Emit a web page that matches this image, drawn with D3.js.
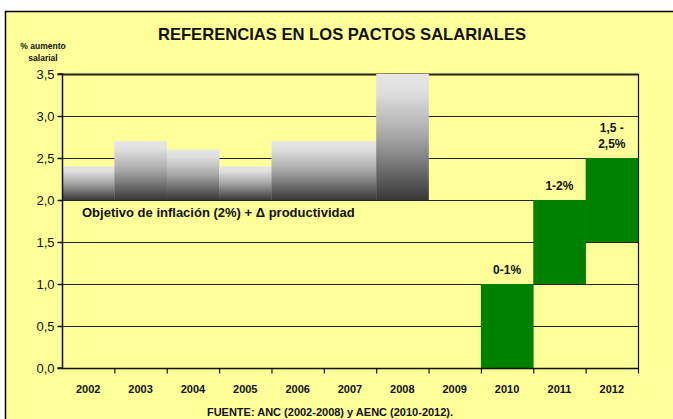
<!DOCTYPE html>
<html><head><meta charset="utf-8">
<script src="https://cdn.jsdelivr.net/npm/d3@7"></script>
<style>body{margin:0;background:#fff}svg{display:block;font-family:"Liberation Sans",Arial,sans-serif}</style>
</head><body>
<svg id="c" width="673" height="419"></svg>
<script>
const years = ["2002","2003","2004","2005","2006","2007","2008","2009","2010","2011","2012"];
const grayLow  = [2.0, 2.0, 2.0, 2.0, 2.0, 2.0, 2.0, null, null, null, null];
const grayHigh = [2.4, 2.7, 2.6, 2.4, 2.7, 2.7, 3.5, null, null, null, null];
const greenLow  = [null, null, null, null, null, null, null, null, 0, 1, 1.5];
const greenHigh = [null, null, null, null, null, null, null, null, 1, 2, 2.5];
const greenLabels = ["", "", "", "", "", "", "", "", "0-1%", "1-2%", "1,5 -|2,5%"];
const yTicks = [0, 0.5, 1, 1.5, 2, 2.5, 3, 3.5];

const svg = d3.select("#c");
const L = 62, R = 638, T = 74, B = 368;
const x = d3.scaleBand().domain(years).range([L, R]).padding(0);
const y = d3.scaleLinear().domain([0, 3.5]).range([B, T]);

// outer background
svg.append("rect").attr("x", 5.5).attr("y", 11.5).attr("width", 700).attr("height", 420)
  .attr("fill", "#FFFF99").attr("stroke", "#000").attr("stroke-width", 1.5);

const defs = svg.append("defs");
const g = defs.append("linearGradient").attr("id", "gr").attr("x1", 0).attr("y1", 0).attr("x2", 0).attr("y2", 1);
g.append("stop").attr("offset", "0%").attr("stop-color", "#e6e6e6");
g.append("stop").attr("offset", "15%").attr("stop-color", "#dedede");
g.append("stop").attr("offset", "50%").attr("stop-color", "#a6a6a6");
g.append("stop").attr("offset", "100%").attr("stop-color", "#383838");

// gridlines
svg.append("g").selectAll("line").data(yTicks.filter(d => d > 0)).join("line")
  .attr("x1", L).attr("x2", R).attr("y1", d => Math.round(y(d)) + 0.5).attr("y2", d => Math.round(y(d)) + 0.5)
  .attr("stroke", "#222").attr("stroke-width", d => d === 3.5 ? 2 : 1);
// right border
svg.append("line").attr("x1", R + 0.5).attr("x2", R + 0.5).attr("y1", T).attr("y2", B).attr("stroke", "#111").attr("stroke-width", 1.2);

const idx = d3.range(years.length);
svg.append("g").selectAll("rect").data(idx.filter(i => grayHigh[i] != null)).join("rect")
  .attr("x", i => x(years[i])).attr("width", x.bandwidth() + 0.3)
  .attr("y", i => y(grayHigh[i])).attr("height", i => y(grayLow[i]) - y(grayHigh[i]))
  .attr("fill", "url(#gr)");
svg.append("g").selectAll("rect").data(idx.filter(i => greenHigh[i] != null)).join("rect")
  .attr("x", i => x(years[i])).attr("width", x.bandwidth() + 0.3)
  .attr("y", i => y(greenHigh[i])).attr("height", i => y(greenLow[i]) - y(greenHigh[i]))
  .attr("fill", "#008000");

// y axis
const yAxis = svg.append("g").attr("transform", `translate(${L + 0.5},0)`)
  .call(d3.axisLeft(y).tickValues(yTicks).tickFormat(d => d3.format(".1f")(d).replace(".", ",")).tickSize(5).tickPadding(3));
yAxis.selectAll("path,line").attr("stroke", "#111").attr("stroke-width", 1.5);
yAxis.select(".domain").attr("d", `M-5,${T}H0V${B}H-5`);
yAxis.selectAll("text").attr("font-size", 13).attr("fill", "#111").attr("font-family", "Liberation Sans, Arial, sans-serif");

// x axis with ticks at boundaries
const xg = svg.append("g").attr("transform", `translate(0,${B + 0.5})`);
xg.append("line").attr("x1", L).attr("x2", R + 1).attr("y1", 0).attr("y2", 0).attr("stroke", "#111").attr("stroke-width", 1.5);
xg.selectAll("line.t").data(years).join("line").attr("class", "t")
  .attr("x1", d => x(d) + x.bandwidth() + 0.5).attr("x2", d => x(d) + x.bandwidth() + 0.5)
  .attr("y1", 0).attr("y2", 5).attr("stroke", "#111").attr("stroke-width", 1.2);
xg.selectAll("text").data(years).join("text")
  .attr("x", d => x(d) + x.bandwidth() / 2).attr("y", 24)
  .attr("text-anchor", "middle").attr("font-size", 11).attr("font-weight", "bold").attr("fill", "#111").text(d => d);

// green labels
idx.filter(i => greenLabels[i]).forEach(i => {
  const lines = greenLabels[i].split("|");
  const cx = x(years[i]) + x.bandwidth() / 2;
  lines.forEach((t, k) => {
    svg.append("text").attr("x", cx).attr("y", y(greenHigh[i]) - 10 - (lines.length - 1 - k) * 16)
      .attr("text-anchor", "middle").attr("font-size", 12).attr("font-weight", "bold").attr("fill", "#111").text(t);
  });
});

svg.append("text").attr("x", 82).attr("y", 217).attr("font-size", 13).attr("font-weight", "bold").attr("fill", "#111")
  .text("Objetivo de inflación (2%) + Δ productividad");

svg.append("text").attr("x", 342).attr("y", 40).attr("text-anchor", "middle").attr("font-size", 16.6).attr("font-weight", "bold").attr("fill", "#111")
  .text("REFERENCIAS EN LOS PACTOS SALARIALES");
svg.append("text").attr("x", 43).attr("y", 49).attr("text-anchor", "middle").attr("font-size", 8.5).attr("font-weight", "bold").attr("fill", "#111").text("% aumento");
svg.append("text").attr("x", 43).attr("y", 61).attr("text-anchor", "middle").attr("font-size", 8.5).attr("font-weight", "bold").attr("fill", "#111").text("salarial");
svg.append("text").attr("x", 330).attr("y", 416).attr("text-anchor", "middle").attr("font-size", 11).attr("font-weight", "bold").attr("fill", "#111")
  .text("FUENTE: ANC (2002-2008) y AENC (2010-2012).");
</script>
</body></html>
